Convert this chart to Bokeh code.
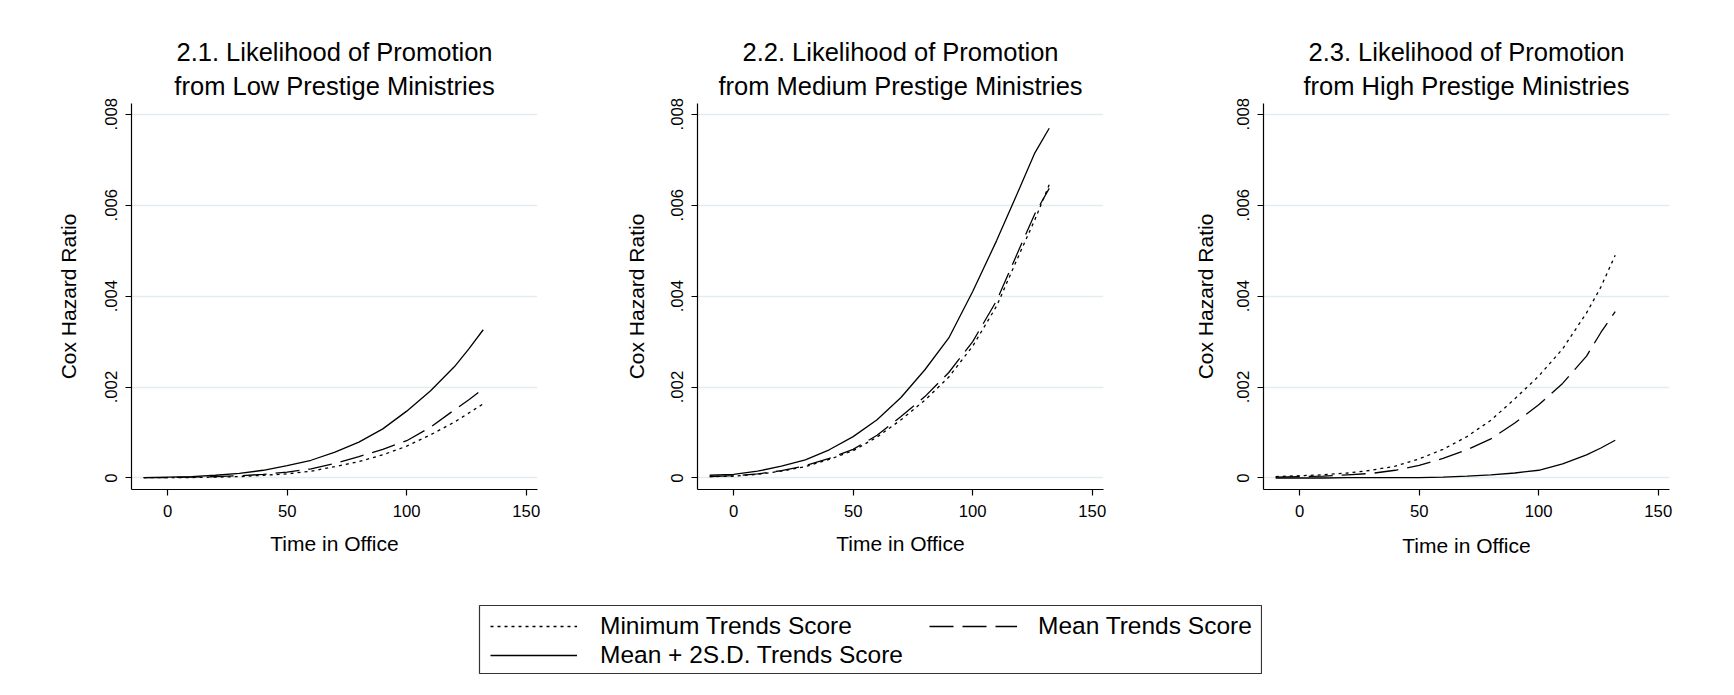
from bokeh.plotting import figure
from bokeh.models import Range1d, FixedTicker, CustomJSTickFormatter, Title, Legend, LegendItem, Spacer
from bokeh.layouts import row, column
from bokeh.embed import file_html
from bokeh.resources import INLINE

FONT = "Liberation Sans"

# ---------------- data ----------------
time_in_office = [-10, 0, 10, 20, 30, 40, 50, 60, 70, 80, 90, 100, 110, 120, 126, 132]

low_min = [0.00001, 0.00001, 0.00001, 0.00002, 0.00003, 0.00006, 0.00009, 0.00015, 0.00025, 0.00036, 0.00051, 0.00070, 0.00095, 0.00123, 0.00143, 0.00163]
low_mean = [0.00001, 0.00001, 0.00002, 0.00003, 0.00005, 0.00008, 0.00013, 0.00020, 0.00032, 0.00047, 0.00063, 0.00082, 0.00112, 0.00150, 0.00172, 0.00196]
low_sd2 = [0.00001, 0.00002, 0.00003, 0.00006, 0.00010, 0.00017, 0.00027, 0.00039, 0.00057, 0.00079, 0.00108, 0.00147, 0.00192, 0.00245, 0.00284, 0.00326]

med_min = [0.00003, 0.00004, 0.00008, 0.00015, 0.00025, 0.00041, 0.00060, 0.00090, 0.00128, 0.00171, 0.00222, 0.00290, 0.00378, 0.00498, 0.00568, 0.00645]
med_mean = [0.00003, 0.00005, 0.00009, 0.00016, 0.00027, 0.00043, 0.00063, 0.00094, 0.00135, 0.00179, 0.00232, 0.00300, 0.00390, 0.00510, 0.00581, 0.00637]
med_sd2 = [0.00006, 0.00008, 0.00015, 0.00026, 0.00040, 0.00062, 0.00091, 0.00128, 0.00177, 0.00238, 0.00308, 0.00410, 0.00522, 0.00642, 0.00715, 0.00769]

high_min = [0.00003, 0.00005, 0.00007, 0.00011, 0.00017, 0.00026, 0.00042, 0.00063, 0.00091, 0.00127, 0.00174, 0.00224, 0.00284, 0.00363, 0.00420, 0.00490]
high_mean = [0.00002, 0.00003, 0.00004, 0.00007, 0.00010, 0.00017, 0.00028, 0.00043, 0.00062, 0.00086, 0.00121, 0.00161, 0.00208, 0.00268, 0.00320, 0.00366]
high_sd2 = [0.00000, 0.00000, 0.00000, 0.00001, 0.00001, 0.00001, 0.00001, 0.00002, 0.00004, 0.00007, 0.00011, 0.00017, 0.00031, 0.00051, 0.00066, 0.00083]

panel_titles = [
    ("2.1. Likelihood of Promotion", "from Low Prestige Ministries"),
    ("2.2. Likelihood of Promotion", "from Medium Prestige Ministries"),
    ("2.3. Likelihood of Promotion", "from High Prestige Ministries"),
]
panel_series = [
    (low_min, low_mean, low_sd2),
    (med_min, med_mean, med_sd2),
    (high_min, high_mean, high_sd2),
]
series_labels = ["Minimum Trends Score", "Mean Trends Score", "Mean + 2S.D. Trends Score"]
series_dash = ["3 4", "24 9", "solid"]
x_ticks = [0, 50, 100, 150]
y_ticks = [0, 0.002, 0.004, 0.006, 0.008]
x_label = "Time in Office"
y_label = "Cox Hazard Ratio"

ylab_standoffs = [23, 21, 18]
xlab_standoffs = [12, 12, 14]


def make_panel(i):
    line1, line2 = panel_titles[i]
    p = figure(width=566, height=557,
               x_range=Range1d(-15.1, 154.7), y_range=Range1d(-0.000253, 0.008235),
               output_backend="svg", toolbar_location=None, title=None,
               min_border_left=123, min_border_right=37, min_border_top=95, min_border_bottom=76,
               background_fill_color="white", border_fill_color="white")
    p.outline_line_color = None
    p.add_layout(Title(text=line2, align="center", text_font=FONT, text_font_size="25.5px",
                       text_font_style="normal", text_color="black", standoff=7), "above")
    p.add_layout(Title(text=line1, align="center", text_font=FONT, text_font_size="25.5px",
                       text_font_style="normal", text_color="black", standoff=1), "above")

    p.xaxis.ticker = FixedTicker(ticks=x_ticks)
    p.yaxis.ticker = FixedTicker(ticks=y_ticks)
    p.ygrid.ticker = FixedTicker(ticks=y_ticks)
    p.yaxis.formatter = CustomJSTickFormatter(
        code="return tick == 0 ? '0' : tick.toFixed(3).replace(/^0/, '');")
    p.yaxis.major_label_orientation = "vertical"
    p.xaxis.axis_label = x_label
    p.yaxis.axis_label = y_label
    for ax in (p.xaxis[0], p.yaxis[0]):
        ax.axis_line_color = "black"
        ax.axis_line_width = 1.2
        ax.major_tick_line_color = "black"
        ax.major_tick_line_width = 1.2
        ax.major_tick_out = 6
        ax.major_tick_in = 0
        ax.minor_tick_line_color = None
        ax.major_label_text_font = FONT
        ax.major_label_text_font_size = "16.7px"
        ax.major_label_text_color = "black"
        ax.axis_label_text_font = FONT
        ax.axis_label_text_font_size = "21px"
        ax.axis_label_text_font_style = "normal"
        ax.axis_label_text_color = "black"
    p.yaxis.major_label_standoff = 8
    p.xaxis.major_label_standoff = 9
    p.yaxis.axis_label_standoff = ylab_standoffs[i]
    p.xaxis.axis_label_standoff = xlab_standoffs[i]
    p.xgrid.visible = False
    p.ygrid.grid_line_color = "#E3ECF0"
    p.ygrid.grid_line_width = 1.5

    for vals, dash in zip(panel_series[i], series_dash):
        p.line(time_in_office, vals, line_color="black", line_width=1.3, line_dash=dash)
    return p


panels = [make_panel(i) for i in range(3)]

# ---------------- legend ----------------
leg = figure(width=784, height=70, x_range=Range1d(0, 1), y_range=Range1d(0, 1),
             output_backend="svg", toolbar_location=None, title=None,
             x_axis_location=None, y_axis_location=None, min_border=1,
             background_fill_color="white", border_fill_color="white")
leg.grid.visible = False
leg.outline_line_color = "#333333"
leg.outline_line_width = 1.2

# legend proxies: a single undefined point each (nothing drawn in the box itself)
proxies = [leg.line(x=[0.0], y=[float("nan")], line_color="black", line_width=1.3, line_dash=d)
           for d in series_dash]
legend_spots = [(11, 32, 87, 23), (450, 32, 88, 21), (11, 3, 87, 23)]
for r, lab, (lx, ly, gw, so) in zip(proxies, series_labels, legend_spots):
    lg = Legend(items=[LegendItem(label=lab, renderers=[r])], location=(lx, ly),
                padding=0, margin=0, spacing=0, border_line_color=None,
                background_fill_alpha=0, glyph_width=gw, glyph_height=30, label_height=30,
                label_standoff=so, label_text_font=FONT, label_text_font_size="24.5px",
                label_text_color="black")
    leg.add_layout(lg)

content = column(row(*panels), Spacer(height=39), row(Spacer(width=470), leg))
layout = column(Spacer(height=8), row(Spacer(width=8), content))

open("out.html", "w").write(file_html(layout, INLINE))
